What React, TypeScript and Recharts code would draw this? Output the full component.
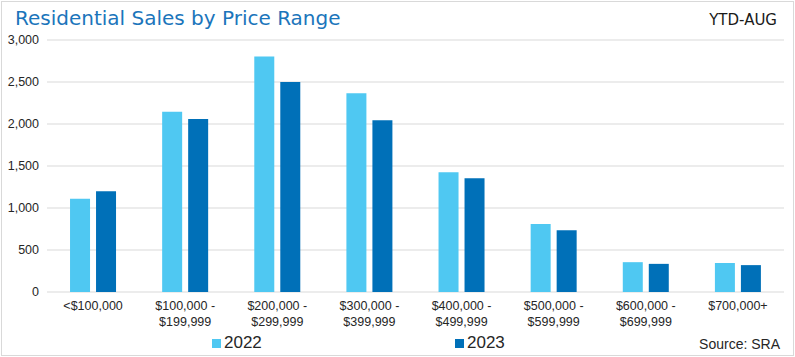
import { Bar, BarChart, CartesianGrid, XAxis, YAxis } from "recharts";

// Residential Sales by Price Range, YTD-AUG, 2022 vs 2023
const categories = [
  "<$100,000",
  "$100,000 - $199,999",
  "$200,000 - $299,999",
  "$300,000 - $399,999",
  "$400,000 - $499,999",
  "$500,000 - $599,999",
  "$600,000 - $699,999",
  "$700,000+",
];
const sales2022 = [1110, 2145, 2805, 2365, 1425, 810, 355, 345];
const sales2023 = [1200, 2060, 2500, 2045, 1355, 735, 335, 320];
const yTicks = [0, 500, 1000, 1500, 2000, 2500, 3000];

const LIGHT = "#4fc8f2";
const DARK = "#0070b8";
const TEXT = "#262626";

const data = categories.map((c, i) => ({ range: c, y2022: sales2022[i], y2023: sales2023[i] }));

const legendItems = [
  { label: "2022", color: LIGHT, left: 212 },
  { label: "2023", color: DARK, left: 455 },
];

function RangeTick(props: any) {
  const { x, y, payload } = props;
  const parts = String(payload.value).split(" - ");
  const lines = parts.length > 1 ? [parts[0] + " -", parts[1]] : parts;
  return (
    <text x={x} y={y} textAnchor="middle" fill={TEXT} fontSize={12.5} fontFamily="Liberation Sans, Arial, sans-serif">
      {lines.map((l, i) => (
        <tspan key={i} x={x} dy={i === 0 ? 10 : 16}>
          {l}
        </tspan>
      ))}
    </text>
  );
}

export default function App() {
  return (
    <div style={{ position: "absolute", left: 0, top: 0, width: 795, height: 357, background: "#fff" }}>
      <div
        style={{
          position: "absolute",
          left: 1,
          top: 1,
          width: 791,
          height: 353,
          border: "1px solid #d9d9d9",
        }}
      />
      <div
        style={{
          position: "absolute",
          left: 15,
          top: 6,
          fontFamily: "DejaVu Sans, Verdana, sans-serif",
          fontSize: 20,
          color: "#1b75bb",
          whiteSpace: "nowrap",
        }}
      >
        Residential Sales by Price Range
      </div>
      <div
        style={{
          position: "absolute",
          right: 18,
          top: 11,
          fontFamily: "DejaVu Sans, Verdana, sans-serif",
          fontSize: 15,
          color: "#1a1a1a",
        }}
      >
        YTD-AUG
      </div>

      <BarChart
        width={795}
        height={357}
        data={data}
        margin={{ top: 40, right: 11, bottom: 0, left: 0 }}
        barCategoryGap="25%"
        barGap={6}
        style={{ position: "absolute", left: 0, top: 0 }}
      >
        <CartesianGrid vertical={false} stroke="#d9d9d9" />
        <XAxis
          dataKey="range"
          axisLine={false}
          tickLine={false}
          interval={0}
          height={65}
          tick={<RangeTick />}
        />
        <YAxis
          width={47}
          domain={[0, 3000]}
          ticks={yTicks}
          axisLine={false}
          tickLine={false}
          tickFormatter={(v: number) => v.toLocaleString("en-US")}
          tick={{ fill: TEXT, fontSize: 12.5, fontFamily: "Liberation Sans, Arial, sans-serif" }}
        />
        <Bar dataKey="y2022" fill={LIGHT} isAnimationActive={false} />
        <Bar dataKey="y2023" fill={DARK} isAnimationActive={false} />
      </BarChart>

      {legendItems.map((it) => (
        <div
          key={it.label}
          style={{
            position: "absolute",
            left: it.left,
            top: 333,
            display: "flex",
            alignItems: "center",
            fontFamily: "Liberation Sans, Arial, sans-serif",
            fontSize: 17,
            color: TEXT,
          }}
        >
          <span style={{ display: "inline-block", width: 9, height: 9, background: it.color, marginRight: 3 }} />
          {it.label}
        </div>
      ))}
      <div
        style={{
          position: "absolute",
          right: 15,
          top: 336,
          fontFamily: "Liberation Sans, Arial, sans-serif",
          fontSize: 14,
          color: TEXT,
        }}
      >
        Source: SRA
      </div>
    </div>
  );
}
